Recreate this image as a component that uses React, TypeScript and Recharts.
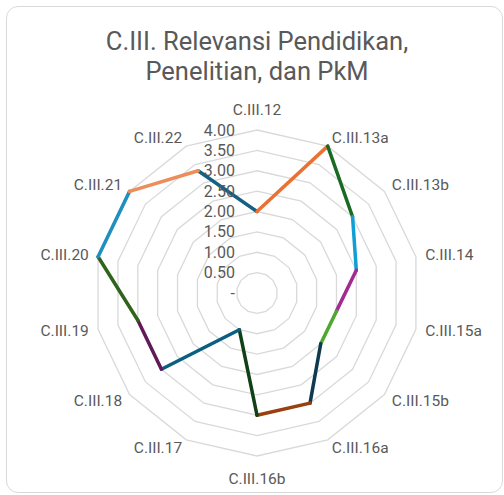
import { RadarChart, Radar, PolarGrid, PolarAngleAxis, PolarRadiusAxis } from 'recharts';

const categories = [
  'C.III.12', 'C.III.13a', 'C.III.13b', 'C.III.14', 'C.III.15a', 'C.III.15b', 'C.III.16a',
  'C.III.16b', 'C.III.17', 'C.III.18', 'C.III.19', 'C.III.20', 'C.III.21', 'C.III.22',
];
const scores = [2, 4, 3, 2.5, 2, 2, 3, 3, 1, 3, 3, 4, 4, 3.33];
const radiusTicks = [0, 0.5, 1, 1.5, 2, 2.5, 3, 3.5, 4];
// colour of the segment that ends at each point (Excel "vary colors by point")
const segmentColors = [
  '#156082', '#E97132', '#196B24', '#0F9ED5', '#A02B93', '#4EA72E', '#0D3A4E',
  '#993F10', '#0F4016', '#095F80', '#601A58', '#2F641C', '#1F8EC0', '#ED8D5B',
];

const data = categories.map((name, i) => ({ name, score: scores[i] }));

const CX = 257;
const CY = 293;
const R = 163;
const FONT = 'Roboto, sans-serif';
const GREY = '#595959';

const fmt = (v: number) => (v === 0 ? '-' : v.toFixed(2));

function SegmentedLine(props: any) {
  const pts = props.points || [];
  return (
    <g>
      {pts.map((p: any, i: number) => {
        const prev = pts[(i - 1 + pts.length) % pts.length];
        return (
          <line
            key={i}
            x1={prev.x}
            y1={prev.y}
            x2={p.x}
            y2={p.y}
            stroke={segmentColors[i]}
            strokeWidth={3.5}
            strokeLinecap="round"
          />
        );
      })}
    </g>
  );
}

function AngleTick(props: any) {
  const { x, y, payload } = props;
  const dx = x - CX;
  const dy = y - CY;
  const len = Math.hypot(dx, dy) || 1;
  const ux = dx / len;
  const uy = dy / len;
  let anchor = 'middle';
  let extra = 1.5;
  if (ux > 0.1) anchor = 'start';
  else if (ux < -0.1) anchor = 'end';
  else extra = uy < 0 ? 12 : 15;
  return (
    <text
      x={x + ux * extra}
      y={y + uy * extra}
      textAnchor={anchor}
      dominantBaseline="central"
      fill={GREY}
      fontSize={15.5}
      fontFamily={FONT}
    >
      {payload.value}
    </text>
  );
}

function RadiusTick(props: any) {
  const { x, y, payload } = props;
  return (
    <text
      x={x - 22}
      y={y}
      textAnchor="end"
      dominantBaseline="central"
      fill={GREY}
      fontSize={16}
      fontFamily={FONT}
    >
      {fmt(payload.value)}
    </text>
  );
}

export default function App() {
  return (
    <div style={{ position: 'absolute', left: 0, top: 0, width: 504, height: 495, background: '#fff' }}>
      <div
        style={{
          position: 'absolute',
          left: 6,
          top: 6,
          width: 497,
          height: 487,
          boxSizing: 'border-box',
          border: '1px solid #D9D9D9',
          borderRadius: 12,
        }}
      />
      <div
        style={{
          position: 'absolute',
          left: 0,
          top: 26,
          width: 514,
          textAlign: 'center',
          fontFamily: FONT,
          fontSize: 25.5,
          lineHeight: '30px',
          color: GREY,
        }}
      >
        C.III. Relevansi Pendidikan,
        <br />
        Penelitian, dan PkM
      </div>
      <div style={{ position: 'absolute', left: 0, top: 0 }}>
        <RadarChart
          width={504}
          height={495}
          data={data}
          cx={CX}
          cy={CY}
          outerRadius={R}
          margin={{ top: 0, right: 0, bottom: 0, left: 0 }}
        >
          <PolarGrid gridType="polygon" radialLines={false} stroke="#D9D9D9" strokeWidth={1.3} />
          <PolarAngleAxis dataKey="name" tick={AngleTick} tickLine={false} axisLine={false} />
          <PolarRadiusAxis
            type="number"
            angle={90}
            domain={[0, 4]}
            ticks={radiusTicks}
            tick={RadiusTick}
            tickLine={false}
            axisLine={false}
          />
          <Radar
            dataKey="score"
            fill="none"
            stroke="none"
            dot={false}
            shape={SegmentedLine}
            isAnimationActive={false}
          />
        </RadarChart>
      </div>
    </div>
  );
}
